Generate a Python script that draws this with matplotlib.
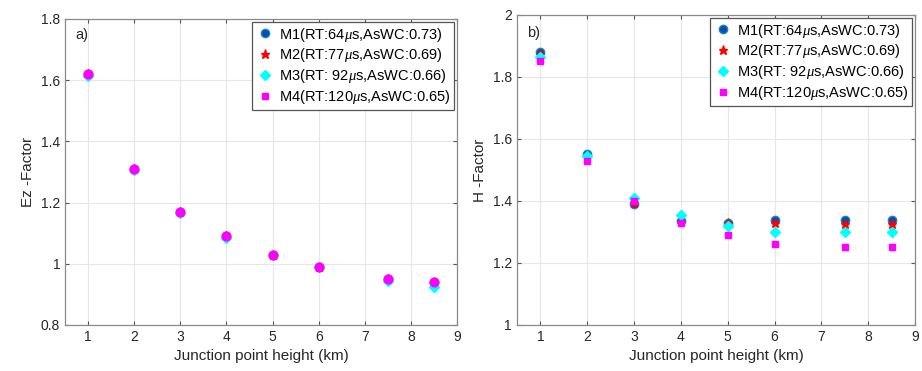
import numpy as np
import matplotlib
matplotlib.use('Agg')
import matplotlib.pyplot as plt
from matplotlib.lines import Line2D

plt.rcParams['font.family'] = ['Liberation Sans', 'DejaVu Sans']
plt.rcParams['mathtext.fontset'] = 'custom'
plt.rcParams['mathtext.it'] = 'Liberation Serif:italic'

# ============================================
# DATA
# ============================================
heights = [1, 2, 3, 4, 5, 6, 7.5, 8.5]

labels = [r'M1(RT:64$\mu$s,AsWC:0.73)',
          r'M2(RT:77$\mu$s,AsWC:0.69)',
          r'M3(RT: 92$\mu$s,AsWC:0.66)',
          r'M4(RT:120$\mu$s,AsWC:0.65)']

# Ez-factor (panel a)
ez_m1 = [1.62, 1.31, 1.17, 1.09, 1.03, 0.99, 0.95, 0.94]
ez_m2 = [1.62, 1.31, 1.17, 1.09, 1.03, 0.99, 0.95, 0.935]
ez_m3 = [1.615, 1.305, 1.165, 1.085, 1.03, 0.988, 0.945, 0.925]
ez_m4 = [1.62, 1.31, 1.17, 1.09, 1.03, 0.99, 0.95, 0.94]

# H-factor (panel b)
h_m1 = [1.88, 1.55, 1.39, 1.335, 1.33, 1.34, 1.34, 1.34]
h_m2 = [1.875, 1.545, 1.395, 1.335, 1.33, 1.33, 1.325, 1.325]
h_m3 = [1.865, 1.545, 1.41, 1.355, 1.32, 1.30, 1.30, 1.30]
h_m4 = [1.85, 1.53, 1.40, 1.33, 1.29, 1.26, 1.25, 1.25]

styles = [
    dict(marker='o', color='#0050a8', markeredgecolor='#1f7fd0', markersize=6),
    dict(marker='*', color='red', markeredgecolor='red', markersize=6.5),
    dict(marker='D', color='cyan', markeredgecolor='cyan', markersize=5),
    dict(marker='s', color='magenta', markeredgecolor='magenta', markersize=5),
]

# panel a: the magenta points look round and cover the others
styles_a = [dict(st) for st in styles]
styles_a[3].update(marker='o', markersize=6.3)


def style_axes(ax, ylim, yticks, ylabel, tag, tag_y):
    ax.set_xlim(0.5, 9)
    ax.set_ylim(*ylim)
    ax.set_xticks(range(1, 10))
    ax.set_yticks(yticks)
    ax.set_yticklabels([f'{v:g}' for v in yticks])
    ax.grid(True, color='#e6e6e6', linewidth=0.8)
    ax.set_axisbelow(True)
    ax.tick_params(direction='in', top=True, right=True, length=3,
                   color='#555555', labelsize=10, labelcolor='#262626')
    for s in ax.spines.values():
        s.set_color('#8a8a8a')
        s.set_linewidth(0.9)
    ax.set_xlabel('Junction point height (km)', fontsize=11, color='#262626')
    ax.set_ylabel(ylabel, fontsize=11, color='#262626')
    ax.text(0.72, tag_y, tag, fontsize=10.5, color='#262626')
    handles = [Line2D([], [], linestyle='none', **st) for st in styles]
    leg = ax.legend(handles, labels, loc='upper right', fontsize=10.5,
                    handletextpad=0.3, borderpad=0.25, labelspacing=0.2,
                    handlelength=1.3, fancybox=False, framealpha=1,
                    borderaxespad=0.2)
    leg.get_frame().set_edgecolor('#555555')
    leg.get_frame().set_linewidth(0.9)


fig = plt.figure(figsize=(9.22, 3.71), dpi=100)

# --- PANEL a: Ez-factor ---
ax1 = fig.add_axes([0.0705, 0.124, 0.4252, 0.8248])
for ys, st in zip([ez_m1, ez_m2, ez_m3, ez_m4], styles_a):
    ax1.plot(heights, ys, linestyle='none', **st)
style_axes(ax1, (0.8, 1.8), [0.8, 1, 1.2, 1.4, 1.6, 1.8], 'Ez -Factor', 'a)', 1.735)

# --- PANEL b: H-factor ---
ax2 = fig.add_axes([0.5607, 0.124, 0.4317, 0.8356])
for ys, st in zip([h_m1, h_m2, h_m3, h_m4], styles):
    ax2.plot(heights, ys, linestyle='none', **st)
style_axes(ax2, (1, 2), [1, 1.2, 1.4, 1.6, 1.8, 2], 'H -Factor', 'b)', 1.93)

plt.savefig('out.png', dpi=100)
